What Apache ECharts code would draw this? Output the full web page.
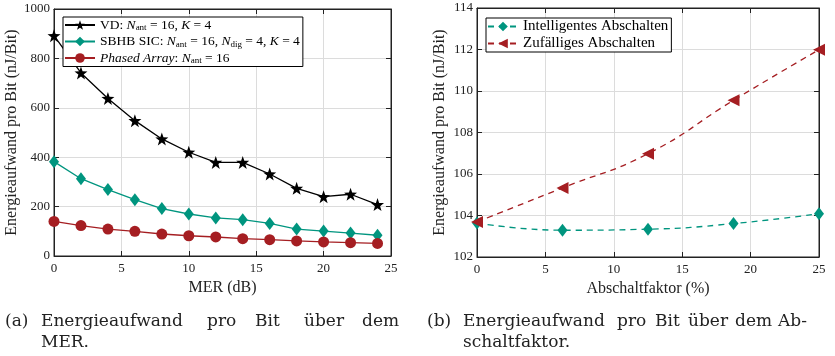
<!DOCTYPE html>
<html><head><meta charset="utf-8">
<script src="https://cdn.jsdelivr.net/npm/echarts@6/dist/echarts.min.js"></script>
<style>html,body{margin:0;padding:0;background:#fff}#c{width:835px;height:356px}</style>
</head><body><div id="c"></div>
<script>
// ---- data ----
const merDb = [0, 2, 4, 6, 8, 10, 12, 14, 16, 18, 20, 22, 24];
const vdValues = [892, 741, 638, 548, 474, 420, 379, 379, 332, 274, 240, 250, 208];
const sbhbValues = [382, 313, 269, 228, 192, 170, 154, 147, 132, 109, 101, 93, 84];
const phasedValues = [140, 123, 109, 100, 89, 82, 77, 70, 66, 61, 57, 54, 51];

const abschaltFaktor = [0, 6.25, 12.5, 18.75, 25];
const intelligentValues = [103.64, 103.29, 103.34, 103.61, 104.09];
const zufallValues = [103.69, 105.33, 106.98, 109.55, 111.99];

const captionA1 = ['(a)', 'Energieaufwand', 'pro', 'Bit', 'über', 'dem'];
const captionA2 = ['MER.'];
const captionB1 = ['(b)', 'Energieaufwand', 'pro', 'Bit', 'über', 'dem', 'Ab-'];
const captionB2 = ['schaltfaktor.'];

// ---- styling ----
const FONT = 'Liberation Serif';
const CAPFONT = '17px "DejaVu Serif"';
const BLACK = '#000000';
const TEAL = '#00957f';
const RED = '#a51e22';
const STAR = 'path://M0,-10 L2.35,-3.24 L9.51,-3.09 L3.8,1.24 L5.88,8.09 L0,4 L-5.88,8.09 L-3.8,1.24 L-9.51,-3.09 L-2.35,-3.24 Z';
const capA1X = [5, 41, 207, 255, 304, 362];
const capB1X = [427, 463, 617, 655, 688, 735, 778];

const chart = echarts.init(document.getElementById('c'), null, {renderer: 'canvas'});

function xAx(gi, name, nameGap) {
  return {
    type: 'value', gridIndex: gi, min: 0, max: 25, interval: 5,
    name: name, nameLocation: 'middle', nameGap: nameGap,
    nameTextStyle: {fontFamily: FONT, fontSize: 16, color: '#222'},
    axisLine: {show: true, onZero: false, lineStyle: {color: '#222', width: 1}},
    axisTick: {show: true, inside: true, length: 5, lineStyle: {color: '#222'}},
    axisLabel: {fontFamily: FONT, fontSize: 13, color: '#222', margin: 6, formatter: v => String(v)},
    splitLine: {show: true, lineStyle: {color: '#dcdcdc', width: 1}}
  };
}
function xMirror(gi) {
  return {type: 'value', gridIndex: gi, min: 0, max: 25, interval: 5, position: 'top',
    axisLine: {show: true, onZero: false, lineStyle: {color: '#222'}},
    axisTick: {show: true, inside: true, length: 5, lineStyle: {color: '#222'}},
    axisLabel: {show: false}, splitLine: {show: false}};
}
function yAx(gi, min, max, interval, gap) {
  return {
    type: 'value', gridIndex: gi, min: min, max: max, interval: interval,
    name: 'Energieaufwand pro Bit (nJ/Bit)', nameLocation: 'middle', nameGap: gap,
    nameTextStyle: {fontFamily: FONT, fontSize: 16, color: '#222'},
    axisLine: {show: true, onZero: false, lineStyle: {color: '#222', width: 1}},
    axisTick: {show: true, inside: true, length: 5, lineStyle: {color: '#222'}},
    axisLabel: {fontFamily: FONT, fontSize: 13, color: '#222', margin: 4, formatter: v => String(v)},
    splitLine: {show: true, lineStyle: {color: '#dcdcdc', width: 1}}
  };
}
function yMirror(gi, min, max, interval) {
  return {type: 'value', gridIndex: gi, min: min, max: max, interval: interval, position: 'right',
    axisLine: {show: true, onZero: false, lineStyle: {color: '#222'}},
    axisTick: {show: true, inside: true, length: 5, lineStyle: {color: '#222'}},
    axisLabel: {show: false}, splitLine: {show: false}};
}

const LF = 13.5;
const rich = {
  t: {fontFamily: FONT, fontSize: LF, color: '#000'},
  i: {fontFamily: FONT, fontSize: LF, fontStyle: 'italic', color: '#000'},
  s: {fontFamily: FONT, fontSize: 9, color: '#000', padding: [6, 0, 0, 0]}
};
const legendText = {
  'VD': '{t|VD: }{i|N}{s|ant}{t| = 16, }{i|K}{t| = 4}',
  'SBHB': '{t|SBHB SIC: }{i|N}{s|ant}{t| = 16, }{i|N}{s|dig}{t| = 4, }{i|K}{t| = 4}',
  'PA': '{i|Phased Array}{t|: }{i|N}{s|ant}{t| = 16}'
};

function pair(xs, ys) { return xs.map((x, k) => [x, ys[k]]); }
function words(list, xs, y) {
  return list.map((w, k) => ({type: 'text', x: xs[k], y: y,
    style: {text: w, font: CAPFONT, fill: '#222', verticalAlign: 'middle', textVerticalAlign: 'middle'}}));
}

const graphics = [].concat(
  words(captionA1, capA1X, 322),
  words(captionA2, [41], 343),
  words(captionB1, capB1X, 322),
  words(captionB2, [463], 343)
);

const option = {
  animation: false,
  backgroundColor: '#fff',
  grid: [
    {left: 54, right: 444, top: 9, bottom: 100, show: true, borderColor: '#222', borderWidth: 1},
    {left: 477, right: 16, top: 8, bottom: 99, show: true, borderColor: '#222', borderWidth: 1}
  ],
  xAxis: [xAx(0, 'MER (dB)', 17), xMirror(0), xAx(1, 'Abschaltfaktor (%)', 19), xMirror(1)],
  yAxis: [yAx(0, 0, 1000, 200, 34), yMirror(0, 0, 1000, 200), yAx(1, 102, 114, 2, 29), yMirror(1, 102, 114, 2)],
  legend: [
    {
      data: ['VD', 'SBHB', 'PA'], left: 63, top: 17, orient: 'vertical',
      itemWidth: 30, itemHeight: 12, itemGap: 2, padding: [1, 3, 1, 1],
      borderColor: '#000', borderWidth: 1, backgroundColor: '#fff',
      formatter: n => legendText[n], textStyle: {rich: rich}
    },
    {
      data: ['Intelligentes Abschalten', 'Zufälliges Abschalten'], left: 486, top: 18, orient: 'vertical',
      itemWidth: 30, itemHeight: 12, itemGap: 2, padding: [1, 3, 1, 1],
      borderColor: '#000', borderWidth: 1, backgroundColor: '#fff',
      textStyle: {fontFamily: FONT, fontSize: 15, color: '#000'}
    }
  ],
  graphic: graphics,
  series: [
    {name: 'VD', type: 'line', xAxisIndex: 0, yAxisIndex: 0, data: pair(merDb, vdValues),
      symbol: STAR, symbolSize: 13, color: BLACK, lineStyle: {width: 1.3, color: BLACK}, itemStyle: {color: BLACK}},
    {name: 'SBHB', type: 'line', xAxisIndex: 0, yAxisIndex: 0, data: pair(merDb, sbhbValues),
      symbol: 'diamond', symbolSize: [10, 13], color: TEAL, lineStyle: {width: 1.3, color: TEAL}, itemStyle: {color: TEAL}},
    {name: 'PA', type: 'line', xAxisIndex: 0, yAxisIndex: 0, data: pair(merDb, phasedValues),
      symbol: 'circle', symbolSize: 11, color: RED, lineStyle: {width: 1.3, color: RED}, itemStyle: {color: RED}},
    {name: 'Intelligentes Abschalten', type: 'line', xAxisIndex: 2, yAxisIndex: 2, data: pair(abschaltFaktor, intelligentValues),
      smooth: 0.5, symbol: 'diamond', symbolSize: [10, 13], color: TEAL,
      lineStyle: {width: 1.3, color: TEAL, type: [6, 5]}, itemStyle: {color: TEAL}},
    {name: 'Zufälliges Abschalten', type: 'line', xAxisIndex: 2, yAxisIndex: 2, data: pair(abschaltFaktor, zufallValues),
      smooth: 0.5, symbol: 'triangle', symbolRotate: 90, symbolSize: 12, color: RED,
      lineStyle: {width: 1.3, color: RED, type: [6, 5]}, itemStyle: {color: RED}}
  ]
};
chart.setOption(option);
</script>
</body></html>
